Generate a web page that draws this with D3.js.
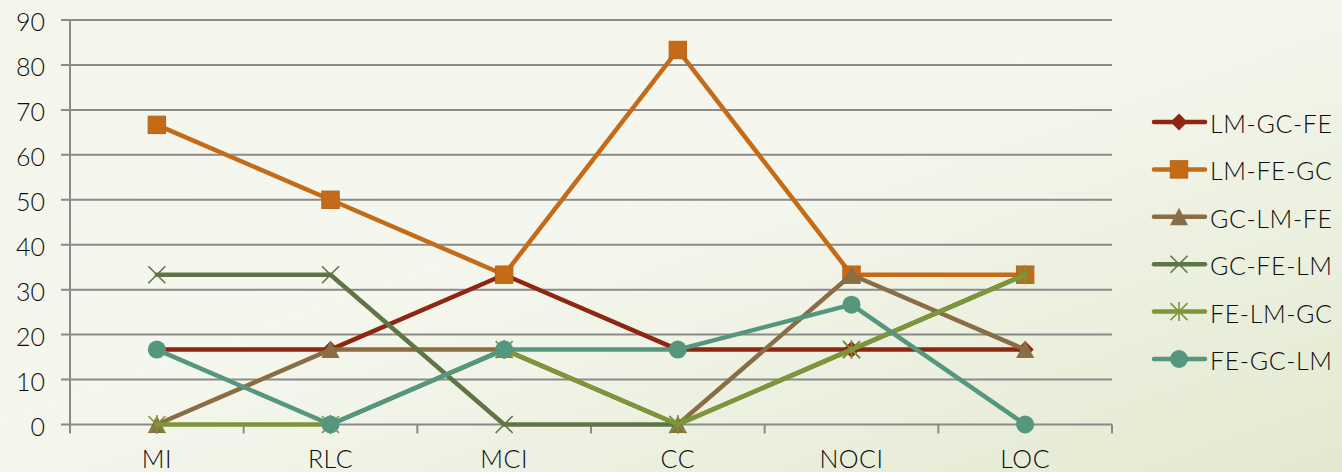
<!DOCTYPE html>
<html>
<head>
<meta charset="utf-8">
<script src="https://cdn.jsdelivr.net/npm/d3@7"></script>
<style>
  html, body { margin: 0; padding: 0; }
  body { width: 1342px; height: 472px; overflow: hidden; }
  svg text { font-family: "Lato", "Noto Sans", sans-serif; font-weight: 300; fill: #0d0d0d; }
</style>
</head>
<body>
<svg id="chart" width="1342" height="472"></svg>
<script>
// Categories along the x axis
const categories = ["MI", "RLC", "MCI", "CC", "NOCI", "LOC"];

// Series names (legend order)
const seriesNames = ["LM-GC-FE", "LM-FE-GC", "GC-LM-FE", "GC-FE-LM", "FE-LM-GC", "FE-GC-LM"];

// Series values (percent), one array per series
const lmGcFe = [16.67, 16.67, 33.33, 16.67, 16.67, 16.67];
const lmFeGc = [66.67, 50, 33.33, 83.33, 33.33, 33.33];
const gcLmFe = [0, 16.67, 16.67, 0, 33.33, 16.67];
const gcFeLm = [33.33, 33.33, 0, 0, 16.67, 33.33];
const feLmGc = [0, 0, 16.67, 0, 16.67, 33.33];
const feGcLm = [16.67, 0, 16.67, 16.67, 26.67, 0];

// Y axis tick labels
const yTicks = [0, 10, 20, 30, 40, 50, 60, 70, 80, 90];

const seriesValues = [lmGcFe, lmFeGc, gcLmFe, gcFeLm, feLmGc, feGcLm];
const colors = ["#8E2711", "#C56A17", "#8A6C45", "#5F7545", "#7E953A", "#55967E"];
const markers = ["diamond", "square", "triangle", "x", "star", "circle"];

const svg = d3.select("#chart");

// Soft background gradient
const defs = svg.append("defs");
const grad = defs.append("linearGradient")
  .attr("id", "bg").attr("x1", "0%").attr("y1", "0%").attr("x2", "100%").attr("y2", "100%");
grad.append("stop").attr("offset", "0%").attr("stop-color", "#F4F6EC");
grad.append("stop").attr("offset", "45%").attr("stop-color", "#F5F7EE");
grad.append("stop").attr("offset", "100%").attr("stop-color", "#E3E9D0");
svg.append("rect").attr("width", 1342).attr("height", 472).attr("fill", "url(#bg)");

const plotLeft = 70, plotRight = 1112, plotTop = 20, plotBottom = 424.5;

const x = d3.scaleBand().domain(categories).range([plotLeft, plotRight]);
const y = d3.scaleLinear().domain([0, 90]).range([plotBottom, plotTop]);
const cx = c => x(c) + x.bandwidth() / 2;

// Horizontal gridlines with short left ticks
const grid = svg.append("g");
grid.selectAll("line").data(yTicks).join("line")
  .attr("x1", 61).attr("x2", plotRight)
  .attr("y1", d => y(d)).attr("y2", d => y(d))
  .attr("stroke", "#8A8A8A").attr("stroke-width", 2);

// Y axis line
svg.append("line")
  .attr("x1", plotLeft).attr("x2", plotLeft).attr("y1", plotTop).attr("y2", plotBottom + 9)
  .attr("stroke", "#8A8A8A").attr("stroke-width", 2);

// X axis tick marks at band boundaries
const bounds = categories.map(c => x(c)).slice(1).concat([plotRight]);
svg.append("g").selectAll("line").data(bounds).join("line")
  .attr("x1", d => d).attr("x2", d => d)
  .attr("y1", plotBottom).attr("y2", plotBottom + 9)
  .attr("stroke", "#8A8A8A").attr("stroke-width", 2);

// Y tick labels
svg.append("g").selectAll("text").data(yTicks).join("text")
  .attr("x", 45).attr("y", d => y(d) + 1)
  .attr("text-anchor", "end").attr("dominant-baseline", "central")
  .attr("font-size", 25).text(d => d);

// X category labels
svg.append("g").selectAll("text").data(categories).join("text")
  .attr("x", d => cx(d)).attr("y", 458)
  .attr("text-anchor", "middle").attr("dominant-baseline", "central")
  .attr("font-size", 25).attr("letter-spacing", 0.5).text(d => d);

// Marker drawing helper
function drawMarker(g, type, px, py, color) {
  if (type === "diamond") {
    const s = 8.5;
    g.append("path").attr("d", `M${px},${py - s}L${px + s},${py}L${px},${py + s}L${px - s},${py}Z`)
      .attr("fill", color);
  } else if (type === "square") {
    const s = 8.7;
    g.append("rect").attr("x", px - s).attr("y", py - s).attr("width", 2 * s).attr("height", 2 * s)
      .attr("fill", color).attr("stroke", "#B7631A").attr("stroke-width", 1);
  } else if (type === "triangle") {
    const s = 9;
    g.append("path").attr("d", `M${px},${py - s}L${px + s},${py + s - 0.5}L${px - s},${py + s - 0.5}Z`)
      .attr("fill", color);
  } else if (type === "x") {
    const s = 8.5;
    g.append("path").attr("d", `M${px - s},${py - s}L${px + s},${py + s}M${px - s},${py + s}L${px + s},${py - s}`)
      .attr("stroke", color).attr("stroke-width", 1.6).attr("fill", "none");
  } else if (type === "star") {
    const s = 8.5;
    g.append("path").attr("d", `M${px - s},${py - s}L${px + s},${py + s}M${px - s},${py + s}L${px + s},${py - s}M${px},${py - s - 1}L${px},${py + s + 1}`)
      .attr("stroke", color).attr("stroke-width", 1.6).attr("fill", "none");
  } else if (type === "circle") {
    g.append("circle").attr("cx", px).attr("cy", py).attr("r", 9).attr("fill", color);
  }
}

// Series lines with markers
const line = d3.line().x((d, i) => cx(categories[i])).y(d => y(d));
seriesValues.forEach((vals, si) => {
  const g = svg.append("g");
  g.append("path").datum(vals).attr("d", line)
    .attr("fill", "none").attr("stroke", colors[si]).attr("stroke-width", 4.5)
    .attr("stroke-linejoin", "round").attr("stroke-linecap", "round");
  vals.forEach((v, i) => drawMarker(g, markers[si], cx(categories[i]), y(v), colors[si]));
});

// Legend
const legend = svg.append("g");
seriesNames.forEach((name, i) => {
  const ly = 122 + i * 47.4;
  const g = legend.append("g");
  g.append("line").attr("x1", 1154).attr("x2", 1205).attr("y1", ly).attr("y2", ly)
    .attr("stroke", colors[i]).attr("stroke-width", 4.5).attr("stroke-linecap", "round");
  drawMarker(g, markers[i], 1179, ly, colors[i]);
  g.append("text").attr("x", 1210).attr("y", ly + 1)
    .attr("dominant-baseline", "central").attr("font-size", 25)
    .attr("letter-spacing", 0.6).text(name);
});
</script>
</body>
</html>
